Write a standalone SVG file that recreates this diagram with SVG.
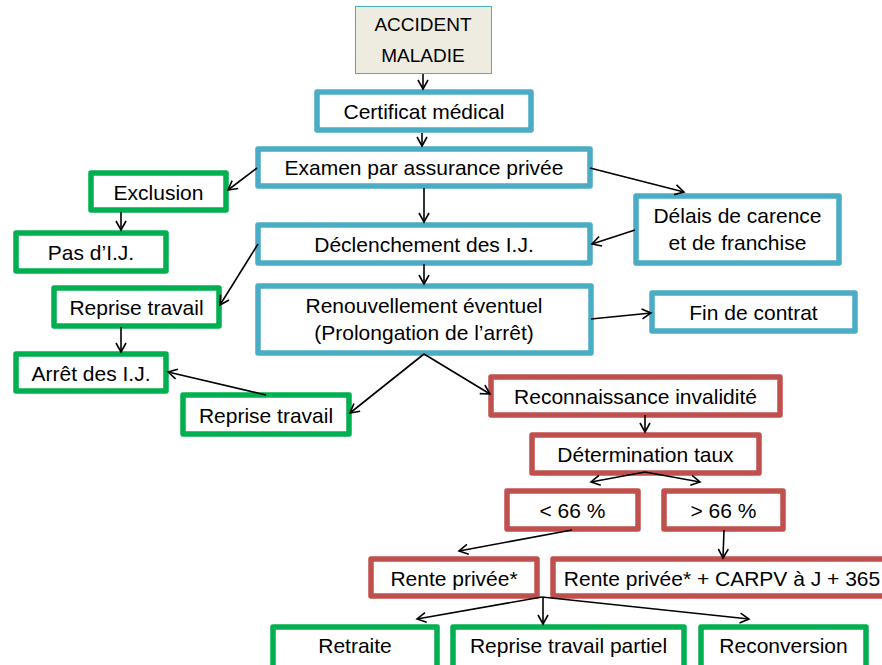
<svg xmlns="http://www.w3.org/2000/svg" width="882" height="665" viewBox="0 0 882 665">
<style>
  text { font-family: "Liberation Sans", Arial, sans-serif; font-size: 21px; fill: #000; text-anchor: middle; }
  .b { fill: #fff; stroke: #4BACC6; stroke-width: 5.5; stroke-linejoin: round; }
  .g { fill: #fff; stroke: #00B050; stroke-width: 5.5; stroke-linejoin: round; }
  .r { fill: #fff; stroke: #C0504D; stroke-width: 5.5; stroke-linejoin: round; }
  .c path { fill: none; stroke: #000; stroke-width: 1.6; marker-end: url(#ah); }
</style>
<defs>
  <marker id="ah" viewBox="-12 -7 14 14" refX="0" refY="0" markerWidth="14" markerHeight="14" markerUnits="userSpaceOnUse" orient="auto">
    <path d="M-9,-5 L0,0 L-9,5" fill="none" stroke="#000" stroke-width="1.6"/>
  </marker>
</defs>
<rect width="882" height="665" fill="#fff"/>

<g id="accident">
  <rect x="355.5" y="6.5" width="136" height="67" fill="#EEECE1" stroke="#4BACC6" stroke-width="1"/>
  <text x="423" y="31" style="font-size:19px">ACCIDENT</text>
  <text x="423" y="62" style="font-size:19px">MALADIE</text>
</g>
<g id="certificat">
  <rect class="b" x="317" y="92" width="214" height="38"/>
  <text x="424" y="119">Certificat médical</text>
</g>
<g id="examen">
  <rect class="b" x="258" y="149" width="332" height="37"/>
  <text x="424" y="175">Examen par assurance privée</text>
</g>
<g id="exclusion">
  <rect class="g" x="91" y="173" width="135" height="37"/>
  <text x="158.5" y="200">Exclusion</text>
</g>
<g id="pas-ij">
  <rect class="g" x="16" y="233" width="150" height="38"/>
  <text x="91" y="260">Pas d’I.J.</text>
</g>
<g id="declenchement">
  <rect class="b" x="258" y="225" width="332" height="38"/>
  <text x="424" y="252">Déclenchement des I.J.</text>
</g>
<g id="delais">
  <rect class="b" x="636" y="196" width="203" height="67"/>
  <text x="737.5" y="223">Délais de carence</text>
  <text x="737.5" y="250">et de franchise</text>
</g>
<g id="reprise1">
  <rect class="g" x="54" y="288" width="165" height="38"/>
  <text x="136.5" y="315">Reprise travail</text>
</g>
<g id="renouvellement">
  <rect class="b" x="258" y="286" width="333" height="67"/>
  <text x="424" y="313">Renouvellement éventuel</text>
  <text x="424" y="340">(Prolongation de l’arrêt)</text>
</g>
<g id="fin-contrat">
  <rect class="b" x="652" y="293" width="203" height="38"/>
  <text x="753.5" y="320">Fin de contrat</text>
</g>
<g id="arret-ij">
  <rect class="g" x="16" y="354" width="150" height="37"/>
  <text x="91" y="381">Arrêt des I.J.</text>
</g>
<g id="reprise2">
  <rect class="g" x="183" y="395" width="166" height="39"/>
  <text x="266" y="423">Reprise travail</text>
</g>
<g id="reconnaissance">
  <rect class="r" x="491" y="377" width="289" height="38"/>
  <text x="635.5" y="404">Reconnaissance invalidité</text>
</g>
<g id="determination">
  <rect class="r" x="532" y="435" width="227" height="38"/>
  <text x="645.5" y="462">Détermination taux</text>
</g>
<g id="moins66">
  <rect class="r" x="507" y="491" width="131" height="38"/>
  <text x="572.5" y="518">&lt; 66 %</text>
</g>
<g id="plus66">
  <rect class="r" x="664" y="491" width="119" height="38"/>
  <text x="723.5" y="518">&gt; 66 %</text>
</g>
<g id="rente">
  <rect class="r" x="371" y="559" width="166" height="37"/>
  <text x="454" y="586">Rente privée*</text>
</g>
<g id="rente-carpv">
  <rect class="r" x="553" y="559" width="340" height="37"/>
  <text x="722" y="586">Rente privée* + CARPV à J + 365</text>
</g>
<g id="retraite">
  <rect class="g" x="273" y="627" width="164" height="45"/>
  <text x="355" y="653">Retraite</text>
</g>
<g id="reprise-partiel">
  <rect class="g" x="453" y="627" width="231" height="45"/>
  <text x="568.5" y="653">Reprise travail partiel</text>
</g>
<g id="reconversion">
  <rect class="g" x="701" y="627" width="165" height="45"/>
  <text x="783.5" y="653">Reconversion</text>
</g>

<g id="connectors" class="c">
  <path d="M423,74 L423,89"/>
  <path d="M422,133 L422,146"/>
  <path d="M257,168 L228,190"/>
  <path d="M121,212 L121,230"/>
  <path d="M424,188 L424,222"/>
  <path d="M590,168 L684,192"/>
  <path d="M635,230 L592,244"/>
  <path d="M258,244 L220,305"/>
  <path d="M424,264 L424,284"/>
  <path d="M121,327 L121,352"/>
  <path d="M591,319 L651,313"/>
  <path d="M424,354 L350,413"/>
  <path d="M424,354 L490,394"/>
  <path d="M266,395 L168,372"/>
  <path d="M645,415 L645,432"/>
  <path d="M645,472 L591,482"/>
  <path d="M645,472 L700,482"/>
  <path d="M572,530 L459,551"/>
  <path d="M724,530 L723,558"/>
  <path d="M542,597 L417,619"/>
  <path d="M543,597 L543,624"/>
  <path d="M542,597 L749,619"/>
</g>
</svg>
